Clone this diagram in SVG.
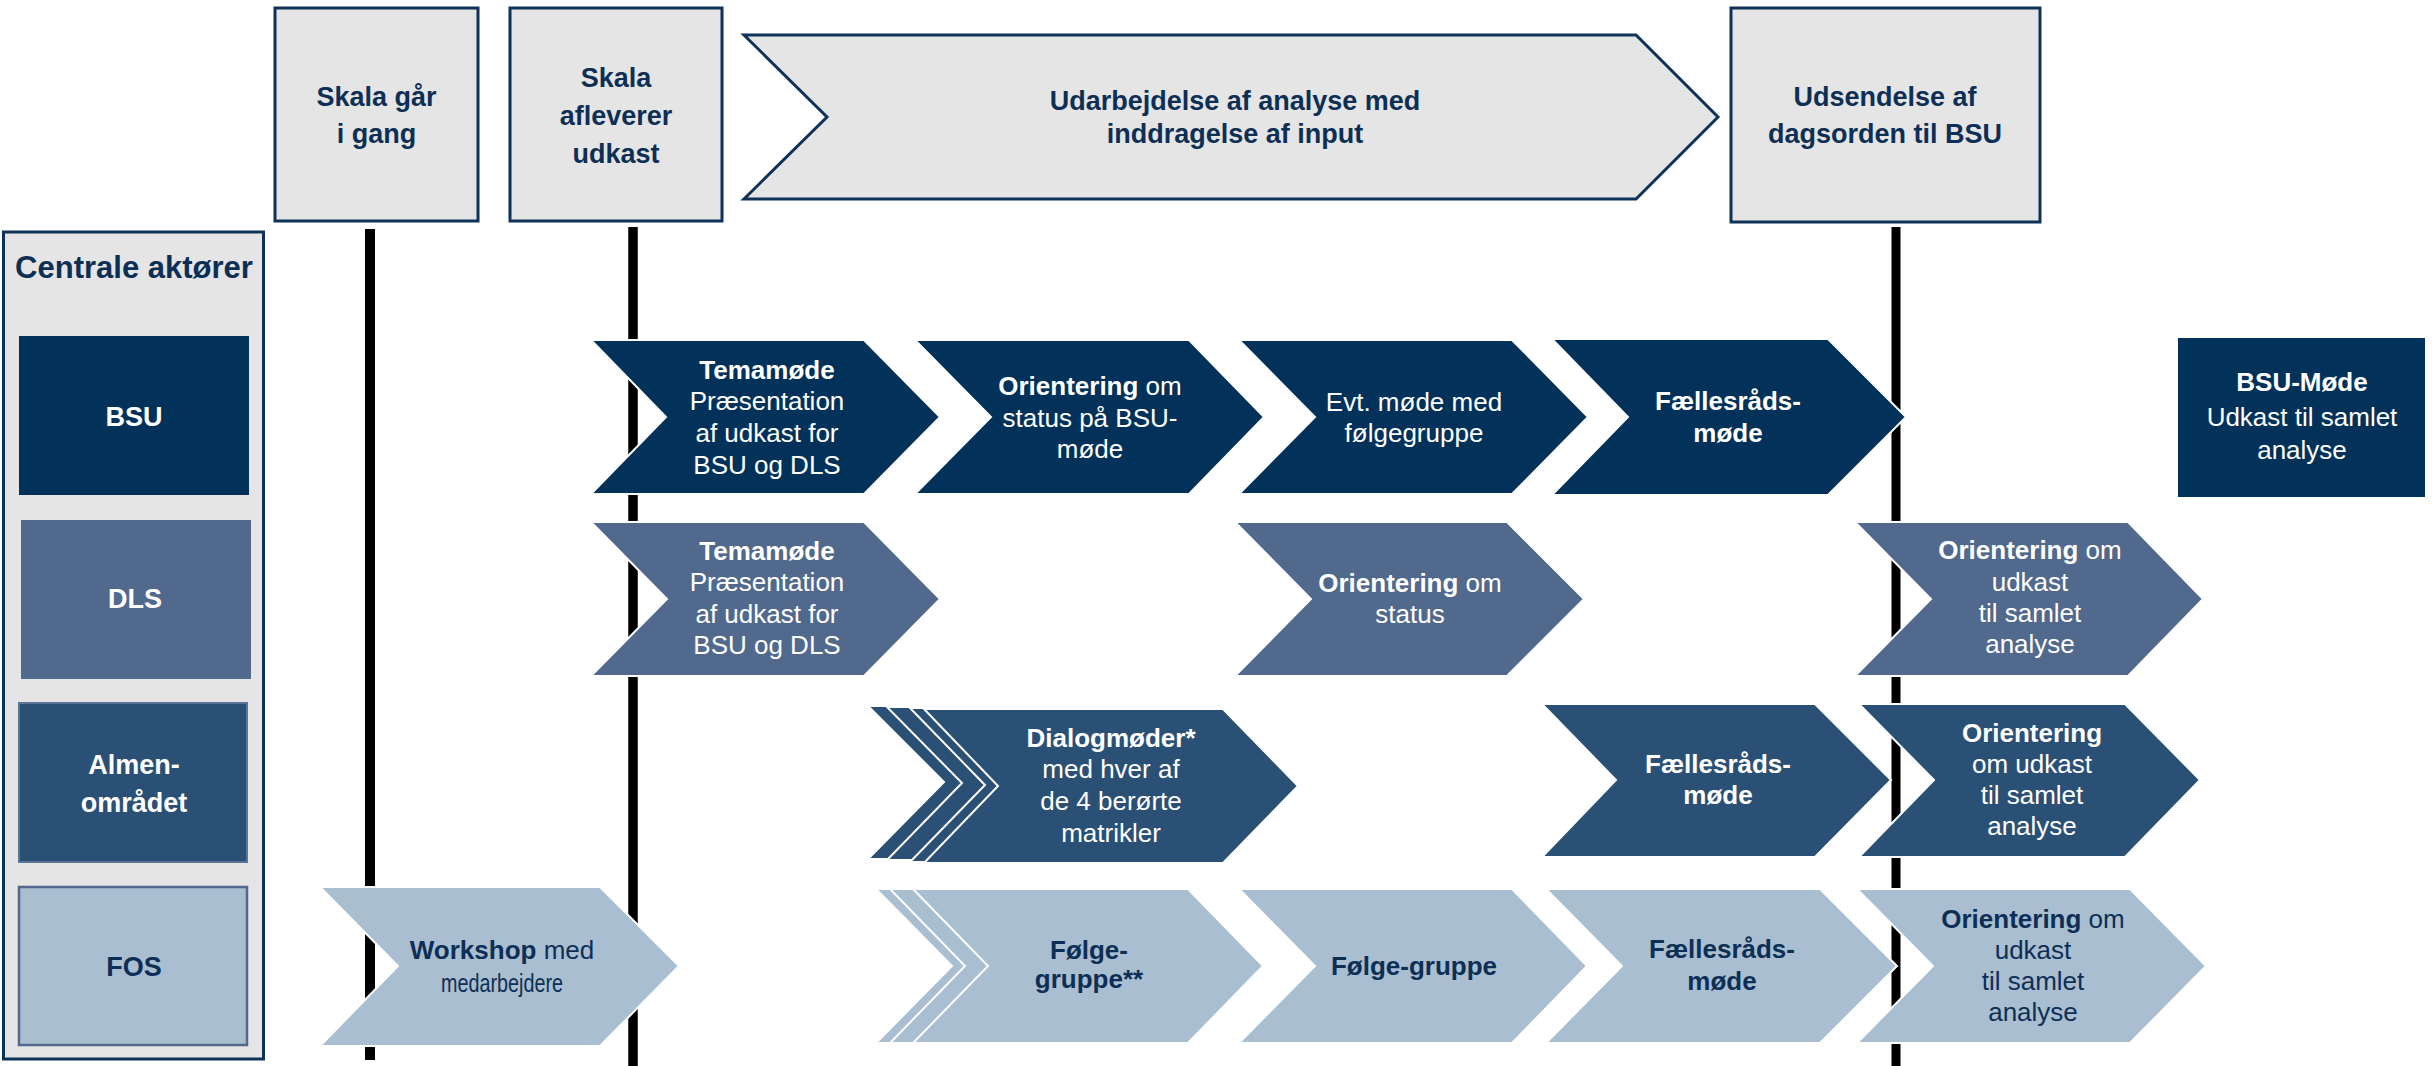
<svg xmlns="http://www.w3.org/2000/svg" width="2432" height="1066" viewBox="0 0 2432 1066">
<style>
.hdr{fill:#E5E5E5;stroke:#0F3358;stroke-width:3}
.bsu{fill:#02325A;stroke:#fff;stroke-width:2}
.dls{fill:#50698D;stroke:#fff;stroke-width:2}
.alm{fill:#2B5075;stroke:#fff;stroke-width:2}
.fos{fill:#A9BED0;stroke:#fff;stroke-width:2}
.vl{stroke:#000}
text{font-family:"Liberation Sans",Arial,sans-serif;font-size:26px;text-anchor:middle}
.h{font-size:27px;font-weight:bold;fill:#0E2F55}
.w{fill:#fff}
.n{fill:#0E2F55}
.b{font-weight:bold}
.a{font-size:27px;font-weight:bold}
</style>

<g id="timeline-lines">
<line class="vl" x1="370" y1="229" x2="370" y2="1060" stroke-width="10"/>
<line class="vl" x1="633" y1="227" x2="633" y2="1066" stroke-width="9.5"/>
<line class="vl" x1="1896" y1="227" x2="1896" y2="1066" stroke-width="9"/>
</g>

<g id="hdr-skala-gaar">
<rect class="hdr" x="275" y="8" width="203" height="213"/>
<text class="h" x="376.5" y="106">Skala går</text>
<text class="h" x="376.5" y="143">i gang</text>
</g>
<g id="hdr-skala-afleverer">
<rect class="hdr" x="510" y="8" width="212" height="213"/>
<text class="h" x="616" y="87">Skala</text>
<text class="h" x="616" y="125">afleverer</text>
<text class="h" x="616" y="163">udkast</text>
</g>
<g id="hdr-udarbejdelse">
<path class="hdr" d="M744,35 H1636 L1718,117 L1636,199 H744 L827,117 Z"/>
<text class="h" x="1235" y="110">Udarbejdelse af analyse med</text>
<text class="h" x="1235" y="143">inddragelse af input</text>
</g>
<g id="hdr-udsendelse">
<rect class="hdr" x="1731" y="8" width="309" height="214"/>
<text class="h" x="1885" y="106">Udsendelse af</text>
<text class="h" x="1885" y="143">dagsorden til BSU</text>
</g>

<g id="actors">
<rect x="3.5" y="232" width="260" height="827" fill="#E5E5E5" stroke="#0F3358" stroke-width="3"/>
<text class="a n" x="134" y="278" style="font-size:31px">Centrale aktører</text>
</g>
<g id="actor-bsu">
<rect x="19" y="336" width="230" height="159" fill="#02325A"/>
<text class="a w" x="134" y="426">BSU</text>
</g>
<g id="actor-dls">
<rect x="21" y="520" width="230" height="159" fill="#50698D"/>
<text class="a w" x="135" y="608">DLS</text>
</g>
<g id="actor-almen">
<rect x="19" y="703" width="228" height="159" fill="#2B5075" stroke="#5B7797" stroke-width="2"/>
<text class="a w" x="134" y="774">Almen-</text>
<text class="a w" x="134" y="812">området</text>
</g>
<g id="actor-fos">
<rect x="19" y="887" width="228" height="158" fill="#A9BED0" stroke="#50698D" stroke-width="2.5"/>
<text class="a n" x="134" y="976">FOS</text>
</g>

<g id="bsu-temamoede">
<path class="bsu" d="M591,340 H864 L940,417 L864,494 H591 L666,417 Z"/>
<text class="w" x="767" y="379"><tspan class="b">Temamøde</tspan></text>
<text class="w" x="767" y="410">Præsentation</text>
<text class="w" x="767" y="442">af udkast for</text>
<text class="w" x="767" y="474">BSU og DLS</text>
</g>
<g id="bsu-orientering">
<path class="bsu" d="M915,340 H1189 L1264,417 L1189,494 H915 L991,417 Z"/>
<text class="w" x="1090" y="395"><tspan class="b">Orientering</tspan> om</text>
<text class="w" x="1090" y="427">status på BSU-</text>
<text class="w" x="1090" y="458">møde</text>
</g>
<g id="bsu-evt-moede">
<path class="bsu" d="M1239,340 H1512 L1588,417 L1512,494 H1239 L1315,417 Z"/>
<text class="w" x="1414" y="411">Evt. møde med</text>
<text class="w" x="1414" y="442">følgegruppe</text>
</g>
<g id="bsu-faellesraad">
<path class="bsu" d="M1552,339 H1828 L1906,417 L1828,495 H1552 L1628,417 Z"/>
<text class="w b" x="1728" y="410">Fællesråds-</text>
<text class="w b" x="1728" y="442">møde</text>
</g>
<g id="bsu-moede">
<rect x="2178" y="338" width="247" height="159" fill="#02325A"/>
<text class="w b" x="2302" y="391">BSU-Møde</text>
<text class="w" x="2302" y="426">Udkast til samlet</text>
<text class="w" x="2302" y="459">analyse</text>
</g>

<g id="dls-temamoede">
<path class="dls" d="M591,522 H864 L940,599 L864,676 H591 L667,599 Z"/>
<text class="w" x="767" y="560"><tspan class="b">Temamøde</tspan></text>
<text class="w" x="767" y="591">Præsentation</text>
<text class="w" x="767" y="623">af udkast for</text>
<text class="w" x="767" y="654">BSU og DLS</text>
</g>
<g id="dls-orientering-status">
<path class="dls" d="M1235,522 H1507 L1584,599 L1507,676 H1235 L1311,599 Z"/>
<text class="w" x="1410" y="592"><tspan class="b">Orientering</tspan> om</text>
<text class="w" x="1410" y="623">status</text>
</g>
<g id="dls-orientering-udkast">
<path class="dls" d="M1855,522 H2128 L2203,599 L2128,676 H1855 L1931,599 Z"/>
<text class="w" x="2030" y="559"><tspan class="b">Orientering</tspan> om</text>
<text class="w" x="2030" y="591">udkast</text>
<text class="w" x="2030" y="622">til samlet</text>
<text class="w" x="2030" y="653">analyse</text>
</g>

<g id="almen-dialogmoeder">
<path class="alm" d="M868,706 H926 L1002,782 L926,859 H868 L944,782 Z"/>
<path class="alm" d="M887,707 H926 L1002,783 L926,860 H887 L962,783 Z"/>
<path class="alm" d="M910,708 H926 L1002,785 L926,862 H910 L985,785 Z"/>
<path class="alm" d="M924,709 H1223 L1298,786 L1223,863 H924 L998,786 Z"/>
<text class="w" x="1111" y="747"><tspan class="b">Dialogmøder*</tspan></text>
<text class="w" x="1111" y="778">med hver af</text>
<text class="w" x="1111" y="810">de 4 berørte</text>
<text class="w" x="1111" y="842">matrikler</text>
</g>
<g id="almen-faellesraad">
<path class="alm" d="M1542,704 H1815 L1891,780 L1815,857 H1542 L1616,780 Z"/>
<text class="w b" x="1718" y="773">Fællesråds-</text>
<text class="w b" x="1718" y="804">møde</text>
</g>
<g id="almen-orientering">
<path class="alm" d="M1859,704 H2125 L2200,780 L2125,857 H1859 L1934,780 Z"/>
<text class="w b" x="2032" y="742">Orientering</text>
<text class="w" x="2032" y="773">om udkast</text>
<text class="w" x="2032" y="804">til samlet</text>
<text class="w" x="2032" y="835">analyse</text>
</g>

<g id="fos-workshop">
<path class="fos" d="M320,887 H600 L679,966 L600,1046 H320 L398,966 Z"/>
<text class="n" x="502" y="959"><tspan class="b">Workshop</tspan> med</text>
<text class="n" x="502" y="992" textLength="122" lengthAdjust="spacingAndGlyphs">medarbejdere</text>
</g>
<g id="fos-foelgegruppe-1">
<path class="fos" d="M876,889 H915 L990,966 L915,1043 H876 L952,966 Z"/>
<path class="fos" d="M890,889 H915 L990,966 L915,1043 H890 L965,966 Z"/>
<path class="fos" d="M913,889 H1188 L1263,966 L1188,1043 H913 L988,966 Z"/>
<text class="n b" x="1089" y="959">Følge-</text>
<text class="n b" x="1089" y="988">gruppe**</text>
</g>
<g id="fos-foelgegruppe-2">
<path class="fos" d="M1239,889 H1512 L1587,966 L1512,1043 H1239 L1315,966 Z"/>
<text class="n b" x="1414" y="975">Følge-gruppe</text>
</g>
<g id="fos-faellesraad">
<path class="fos" d="M1546,889 H1820 L1897,966 L1820,1043 H1546 L1622,966 Z"/>
<text class="n b" x="1722" y="958">Fællesråds-</text>
<text class="n b" x="1722" y="990">møde</text>
</g>
<g id="fos-orientering">
<path class="fos" d="M1857,889 H2130 L2206,966 L2130,1043 H1857 L1933,966 Z"/>
<text class="n" x="2033" y="928"><tspan class="b">Orientering</tspan> om</text>
<text class="n" x="2033" y="959">udkast</text>
<text class="n" x="2033" y="990">til samlet</text>
<text class="n" x="2033" y="1021">analyse</text>
</g>
</svg>
